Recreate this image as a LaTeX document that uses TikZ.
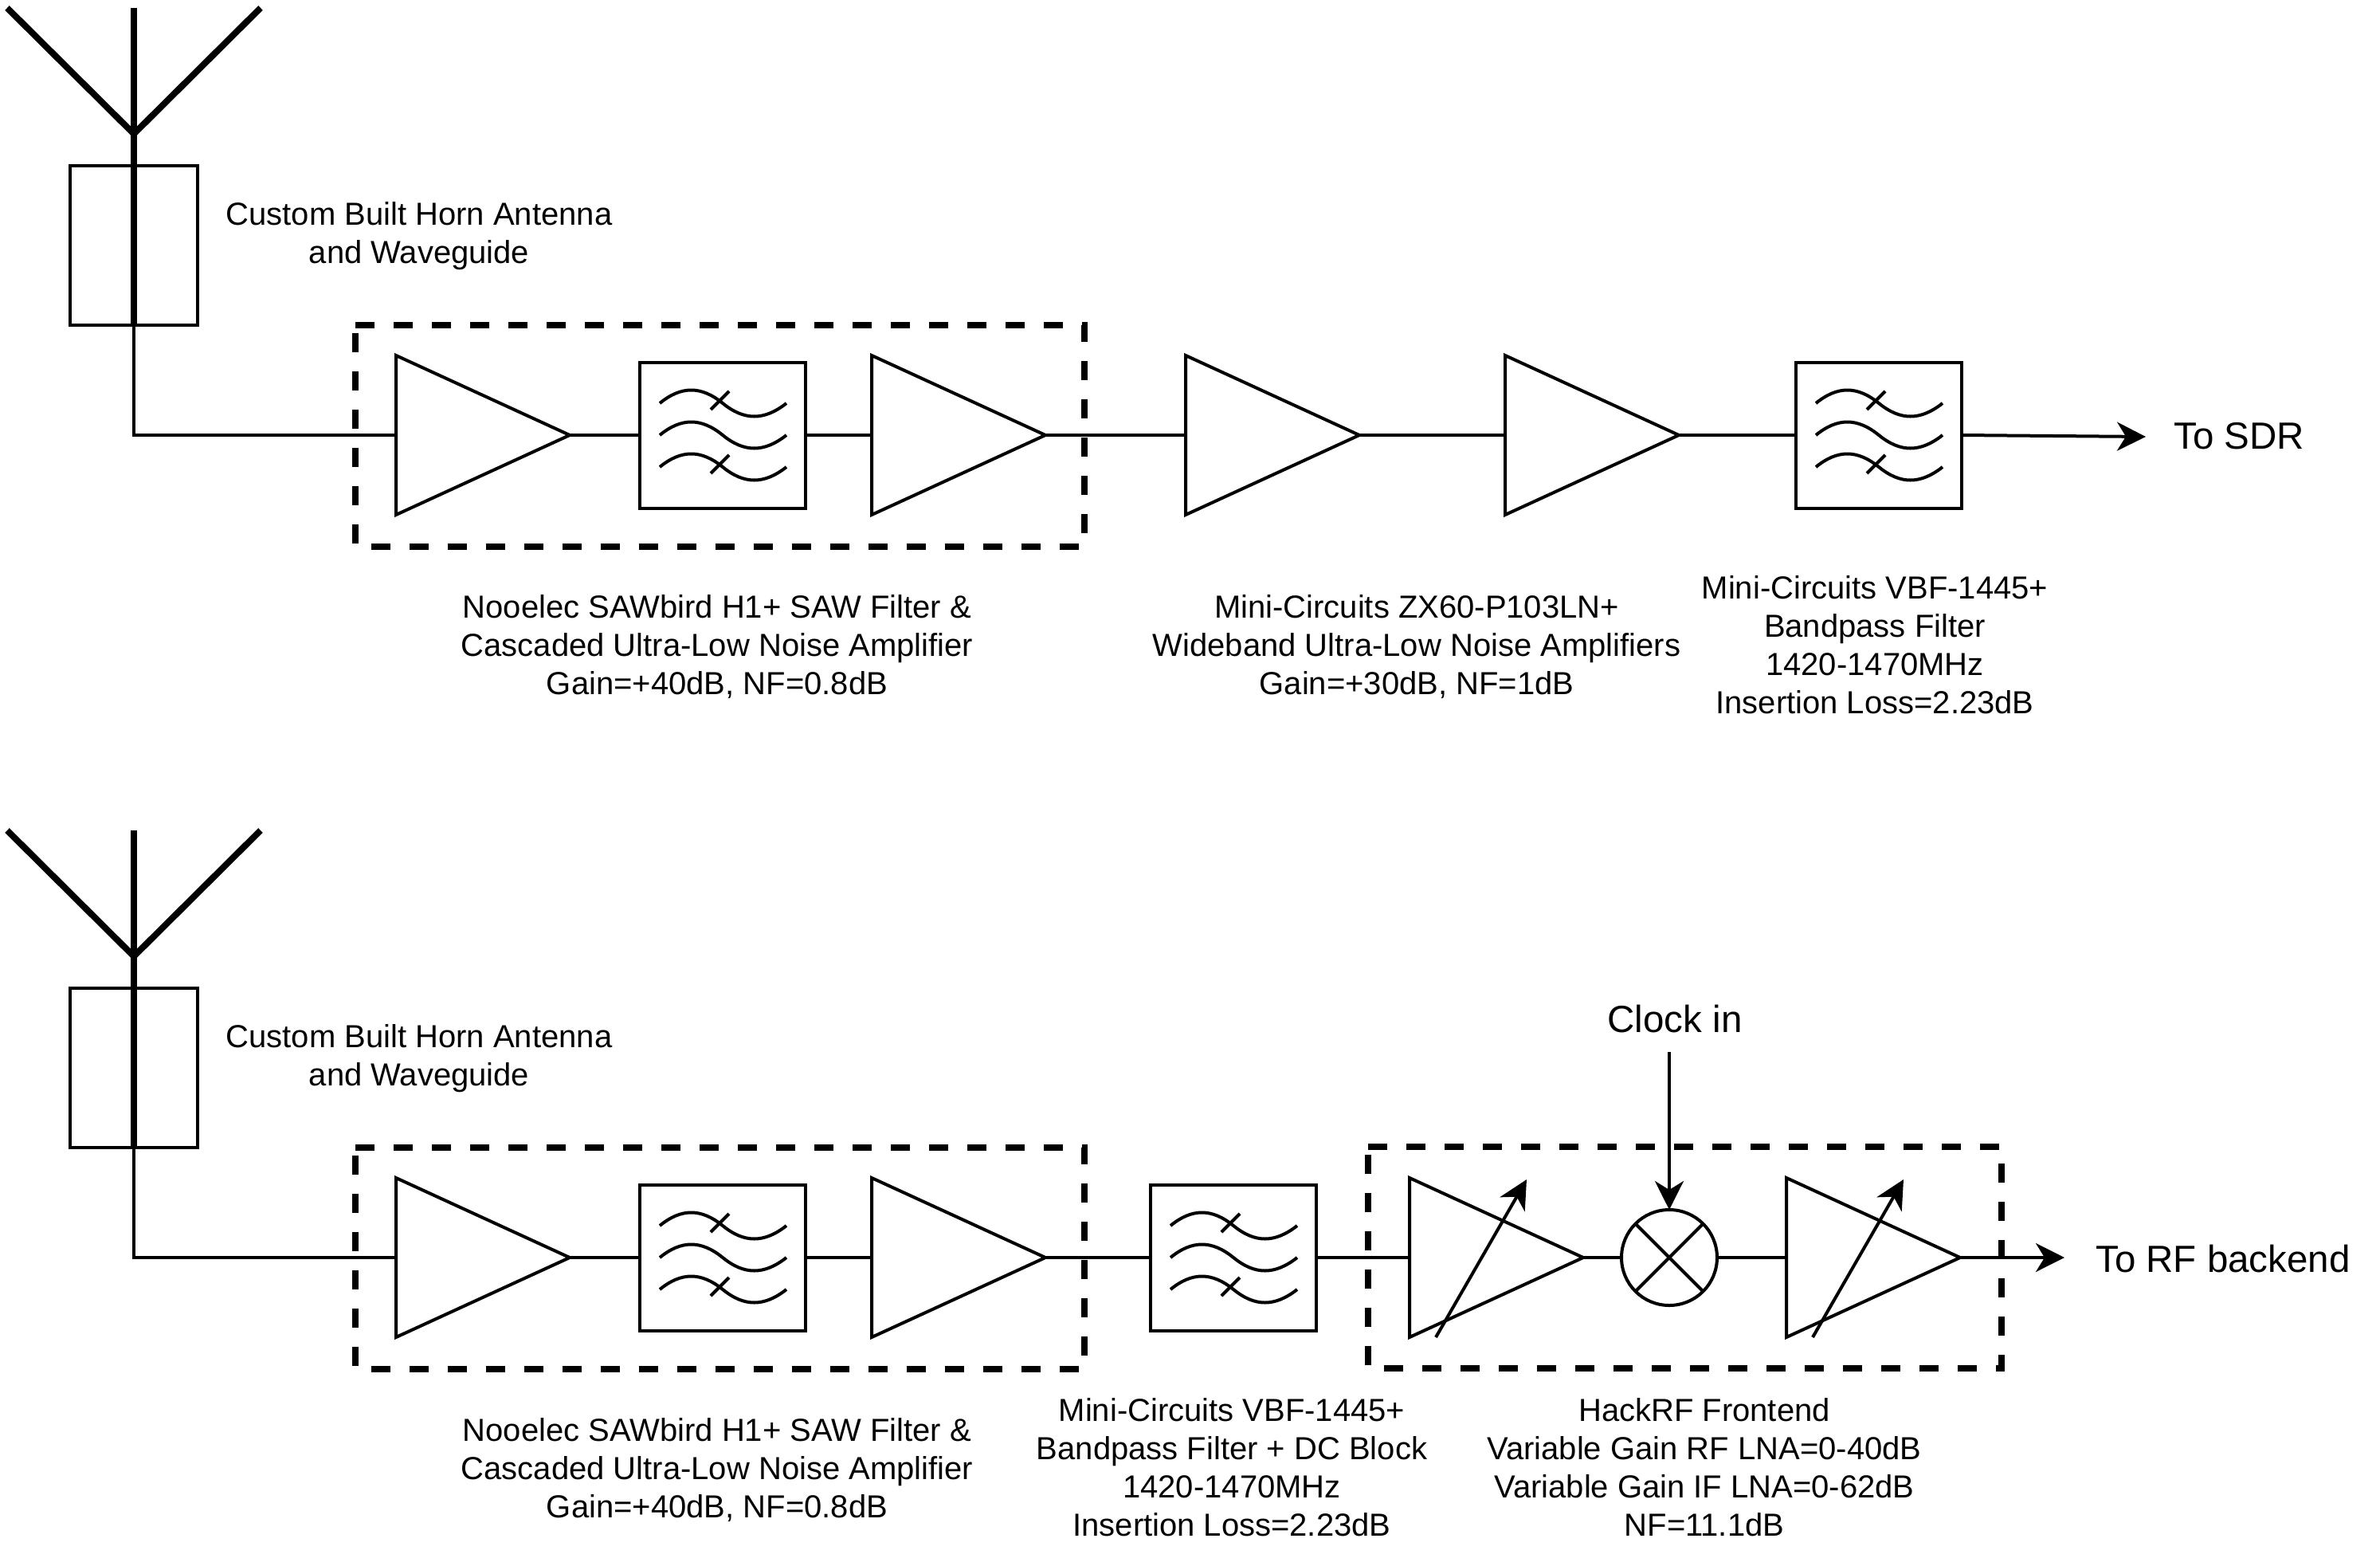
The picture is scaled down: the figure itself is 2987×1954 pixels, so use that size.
\documentclass[tikz,border=0pt]{standalone}
\usepackage{fontspec}
\setmainfont{Liberation Sans}
\usetikzlibrary{arrows.meta}
\tikzset{
  thinline/.style={line width=4pt,line join=miter},
  thickline/.style={line width=8pt},
  dashbox/.style={line width=8pt,dash pattern=on 24pt off 24pt},
  hold/.style={rectangle,inner sep=0pt,outer sep=0pt},
  filterbox/.style={hold,draw,line width=4pt,minimum width=208pt,minimum height=183pt},
  ampbox/.style={hold,minimum width=218pt,minimum height=200pt},
  label/.style={align=center,inner sep=0pt,font=\fontsize{40}{48}\selectfont},
  biglabel/.style={align=center,inner sep=0pt,font=\fontsize{47.5}{54}\selectfont},
  tip/.style={-{Stealth[length=36pt,width=36pt,inset=11pt]}},
}
\newcommand{\antenna}[2]{% name, y offset
  \node[hold,draw,line width=4pt,minimum width=160pt,minimum height=200pt] (#1) at (168,308+#2) {};
  \coordinate (#1top) at (168,10+#2);
  \coordinate (#1j) at (168,168+#2);
  \coordinate (#1l) at (9,10+#2);
  \coordinate (#1r) at (327,10+#2);
  \draw[thickline] (#1l) -- (#1j) -- (#1r);
  \draw[thickline] (#1top) -- (#1.south);
}
\newcommand{\filt}[3]{% name, cx, cy
  \node[filterbox] (#1) at (#2,#3) {};
  \begin{scope}[shift={(#1.center)}]
    \foreach \d in {-40,0,40}{
      \draw[thinline] (-79,\d) .. controls (-52,\d-22) and (-27,\d-22) .. (0,\d)
        .. controls (27,\d+22) and (52,\d+22) .. (80,\d);
    }
    \draw[thinline] (-15,-32) -- (8,-55);
    \draw[thinline] (-15,48) -- (8,25);
  \end{scope}
}
\newcommand{\ampl}[3]{% name, left x, cy
  \node[ampbox,anchor=west] (#1) at (#2,#3) {};
  \draw[thinline] (#1.north west) -- (#1.east) -- (#1.south west) -- cycle;
}
\newcommand{\varamp}[3]{% name, left x, cy
  \ampl{#1}{#2}{#3}
  \coordinate (#1a) at ([shift={(33,100)}]#1.west);
  \coordinate (#1b) at ([shift={(147,-98)}]#1.west);
  \draw[thinline,tip] (#1a) -- (#1b);
}
\newcommand{\dbox}[5]{% name, x1,y1,x2,y2
  \coordinate (#1nw) at (#2,#3);
  \coordinate (#1ne) at (#4,#3);
  \coordinate (#1se) at (#4,#5);
  \coordinate (#1sw) at (#2,#5);
  \draw[dashbox] (#1nw) -- (#1ne) -- (#1se) -- (#1sw) -- cycle;
}
\begin{document}
\begin{tikzpicture}[x=1pt,y=-1pt]
\useasboundingbox (0,0) rectangle (2987,1954);
% ---- top chain
\antenna{antA}{0}
\coordinate (antAc) at (168,546);
\ampl{a1}{497}{546}
\filt{f1}{907}{546}
\ampl{a2}{1094}{546}
\ampl{a3}{1488}{546}
\ampl{a4}{1889}{546}
\filt{f2}{2358}{546}
\node[biglabel] (sdr) at (2810,547) {To SDR};
\coordinate (sdrin) at (2693,548);
\draw[thinline] (antA.south) -- (antAc) -- (a1.west);
\draw[thinline] (a1.east) -- (f1.west);
\draw[thinline] (f1.east) -- (a2.west);
\draw[thinline] (a2.east) -- (a3.west);
\draw[thinline] (a3.east) -- (a4.west);
\draw[thinline] (a4.east) -- (f2.west);
\draw[thinline,tip] (f2.east) -- (sdrin);
\dbox{dA}{446}{408}{1361}{686}
\node[label] (tA) at (526,296) {Custom Built Horn Antenna\\and Waveguide};
\node[label,anchor=north] (t1) at (900,746) {Nooelec SAWbird H1+ SAW Filter \&\\Cascaded Ultra-Low Noise Amplifier\\Gain=+40dB, NF=0.8dB};
\node[label,anchor=north] (t2) at (1778,746) {Mini-Circuits ZX60-P103LN+\\Wideband Ultra-Low Noise Amplifiers\\Gain=+30dB, NF=1dB};
\node[label,anchor=north] (t3) at (2353,722) {Mini-Circuits VBF-1445+\\Bandpass Filter\\1420-1470MHz\\Insertion Loss=2.23dB};
% ---- bottom chain
\antenna{antB}{1032}
\coordinate (antBc) at (168,1578);
\ampl{b1}{497}{1578}
\filt{g1}{907}{1578}
\ampl{b2}{1094}{1578}
\filt{g2}{1548}{1578}
\varamp{v1}{1769}{1578}
\node[hold,circle,draw,line width=4pt,minimum size=120pt] (mix) at (2095,1578) {};
\draw[thinline] (mix.north west) -- (mix.south east);
\draw[thinline] (mix.north east) -- (mix.south west);
\varamp{v2}{2242}{1578}
\node[biglabel] (rf) at (2790,1580) {To RF backend};
\coordinate (rfin) at (2591,1578);
\node[biglabel] (clk) at (2102,1279) {Clock in};
\coordinate (clkout) at (2095,1320);
\draw[thinline] (antB.south) -- (antBc) -- (b1.west);
\draw[thinline] (b1.east) -- (g1.west);
\draw[thinline] (g1.east) -- (b2.west);
\draw[thinline] (b2.east) -- (g2.west);
\draw[thinline] (g2.east) -- (v1.west);
\draw[thinline] (v1.east) -- (mix.west);
\draw[thinline] (mix.east) -- (v2.west);
\draw[thinline,tip] (v2.east) -- (rfin);
\draw[thinline,tip] (clkout) -- (mix.north);
\dbox{dB}{446}{1440}{1361}{1718}
\dbox{dC}{1717}{1439}{2512}{1717}
\node[label] (tB) at (526,1328) {Custom Built Horn Antenna\\and Waveguide};
\node[label,anchor=north] (t4) at (900,1779) {Nooelec SAWbird H1+ SAW Filter \&\\Cascaded Ultra-Low Noise Amplifier\\Gain=+40dB, NF=0.8dB};
\node[label,anchor=north] (t5) at (1546,1754) {Mini-Circuits VBF-1445+\\Bandpass Filter + DC Block\\1420-1470MHz\\Insertion Loss=2.23dB};
\node[label,anchor=north] (t6) at (2139,1754) {HackRF Frontend\\Variable Gain RF LNA=0-40dB\\Variable Gain IF LNA=0-62dB\\NF=11.1dB};
\end{tikzpicture}
\end{document}
